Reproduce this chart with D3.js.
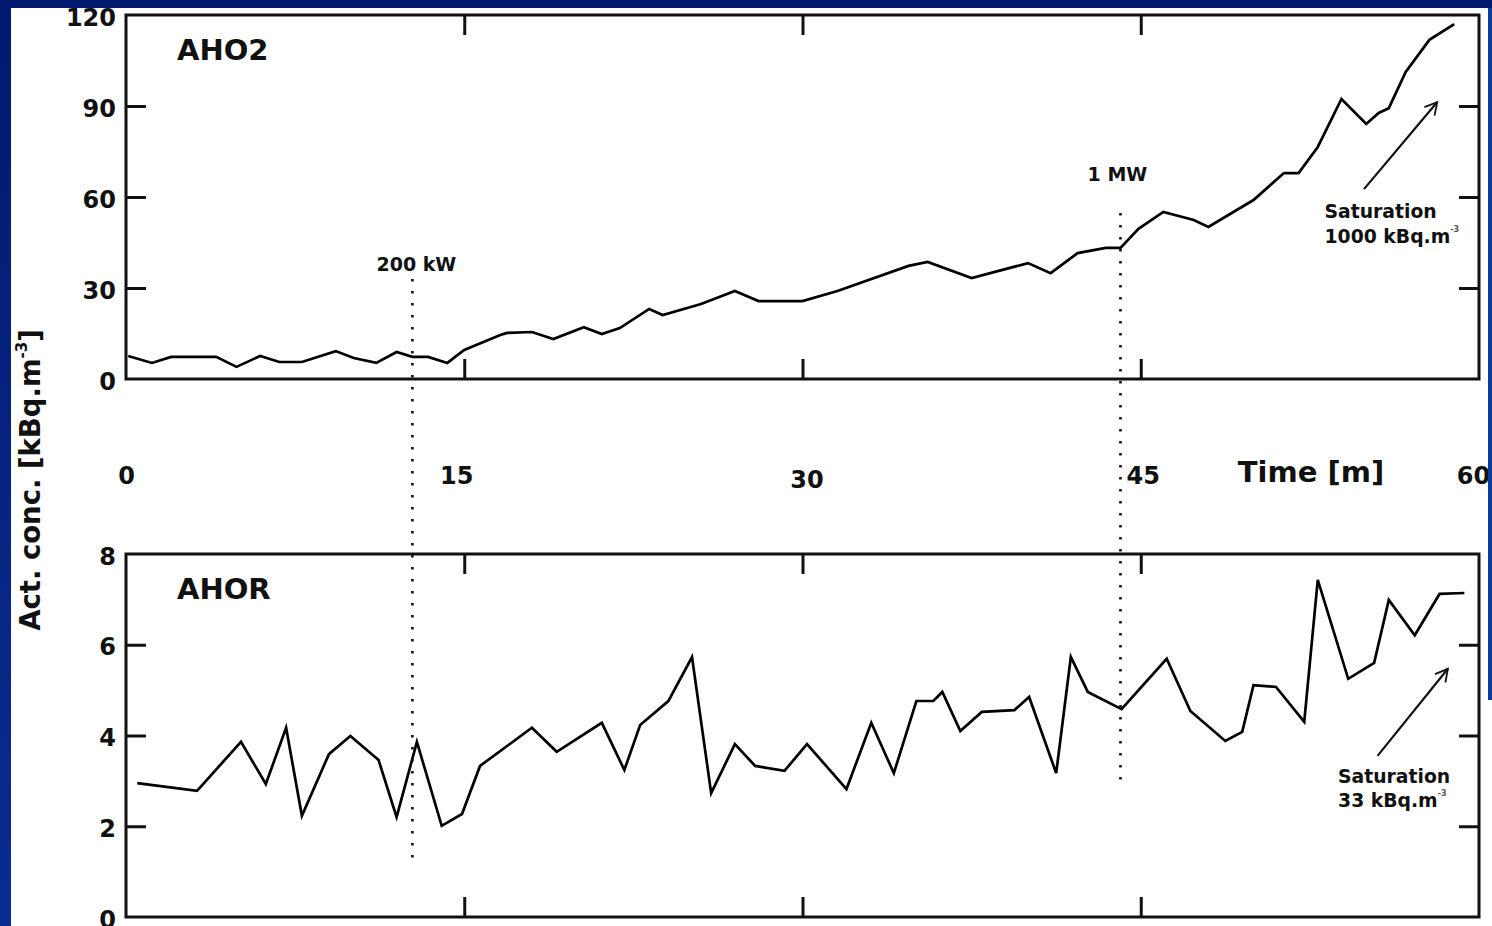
<!DOCTYPE html>
<html>
<head>
<meta charset="utf-8">
<script src="https://cdn.jsdelivr.net/npm/d3@7"></script>
<style>
  body { margin: 0; background: #001a70; }
  svg { display: block; font-family: "DejaVu Sans", Verdana, sans-serif; font-weight: bold; }
  .frame { fill: none; stroke: #111; stroke-width: 3; }
  .series { fill: none; stroke: #000; stroke-width: 2.7; stroke-linejoin: miter; }
  .marker-line { stroke: #111; stroke-width: 2.6; stroke-dasharray: 2.5 9.5; }
  .arrow { stroke: #111; stroke-width: 2.2; fill: none; }
</style>
</head>
<body>
<svg></svg>
<script>
document.addEventListener("DOMContentLoaded", function () {
  // AHO2 activity concentration [kBq.m-3] vs time [min]
  const aho2Time = [0.1, 1.15, 2.0, 4.0, 4.9, 5.95, 6.8, 7.8, 9.3, 10.1, 11.1, 12.0, 12.7, 13.4, 14.25, 15.0,
    16.6, 16.9, 18.0, 18.95, 20.3, 21.1, 21.9, 23.2, 23.8, 25.5, 27.0, 28.05, 30.0, 31.55, 34.7, 35.55,
    37.5, 40.0, 41.0, 42.2, 43.45, 44.1, 44.9, 46.0, 47.35, 48.0, 50.0, 51.35, 52.0, 52.85, 53.9, 55.0,
    55.55, 56.0, 56.75, 57.8, 58.9];
  const aho2Value = [7.6, 5.3, 7.3, 7.3, 4.0, 7.6, 5.6, 5.6, 9.2, 6.9, 5.3, 8.9, 7.3, 7.3, 5.3, 9.6,
    14.5, 15.2, 15.5, 13.2, 17.1, 14.8, 16.8, 23.1, 21.1, 24.7, 29.0, 25.7, 25.7, 29.0, 37.3, 38.6,
    33.3, 38.2, 34.9, 41.5, 43.2, 43.2, 49.5, 55.1, 52.4, 50.1, 59.0, 67.9, 67.9, 76.5, 92.3, 84.1,
    87.7, 89.3, 101.2, 111.8, 117.0];

  // AHOR activity concentration [kBq.m-3] vs time [min]
  const ahorTime = [0.5, 3.15, 5.1, 6.2, 7.1, 7.8, 9.0, 9.95, 11.2, 12.0, 12.9, 14.0, 14.9, 15.7,
    18.0, 19.1, 21.1, 22.1, 22.8, 24.05, 25.1, 25.95, 27.0, 27.9, 29.2, 30.2, 31.95, 33.05, 34.05,
    35.05, 35.8, 36.2, 37.0, 37.95, 39.4, 40.05, 41.25, 41.9, 42.65, 44.15, 46.15, 47.2, 48.75, 49.5,
    50.0, 51.0, 52.25, 52.85, 54.2, 55.35, 56.0, 57.15, 58.25, 59.35];
  const ahorValue = [2.95, 2.78, 3.86, 2.93, 4.17, 2.23, 3.59, 3.99, 3.46, 2.2, 3.86, 2.01, 2.27, 3.33,
    4.17, 3.64, 4.28, 3.24, 4.23, 4.76, 5.73, 2.73, 3.81, 3.33, 3.22, 3.81, 2.82, 4.28, 3.17,
    4.76, 4.76, 4.96, 4.1, 4.52, 4.56, 4.85, 3.17, 5.73, 4.96, 4.58, 5.69, 4.54, 3.88, 4.08,
    5.11, 5.07, 4.3, 7.43, 5.25, 5.6, 6.99, 6.21, 7.12, 7.14];

  const timeTicks = [0, 15, 30, 45, 60];
  const aho2Ticks = [0, 30, 60, 90, 120];
  const ahorTicks = [0, 2, 4, 6, 8];

  const w = 1492;
  const h = 926;

  const svg = d3.select("svg")
    .attr("width", w)
    .attr("height", h);

  // Slide background
  const defs = svg.append("defs");
  const grad = defs.append("linearGradient")
    .attr("id", "bkg")
    .attr("x1", 0).attr("y1", 0).attr("x2", 0).attr("y2", 1);
  grad.append("stop").attr("offset", "0%").attr("stop-color", "#001a70");
  grad.append("stop").attr("offset", "100%").attr("stop-color", "#0a2c90");

  svg.append("rect").attr("width", w).attr("height", h).attr("fill", "url(#bkg)");
  svg.append("rect").attr("x", 11).attr("y", 8).attr("width", 1477).attr("height", h - 8).attr("fill", "#fff");
  svg.append("rect").attr("x", 1488).attr("y", 700).attr("width", 4).attr("height", h - 700).attr("fill", "#fff");

  defs.append("marker")
    .attr("id", "head")
    .attr("viewBox", "0 0 12 12")
    .attr("refX", 10.5).attr("refY", 6)
    .attr("markerWidth", 7).attr("markerHeight", 7)
    .attr("orient", "auto")
    .append("path")
    .attr("d", "M1,0.8 L10.5,6 L1,11.2")
    .attr("fill", "none")
    .attr("stroke", "#111")
    .attr("stroke-width", 1.4);

  const x = d3.scaleLinear().domain([0, 60]).range([126, 1479]);
  const yTop = d3.scaleLinear().domain([0, 120]).range([379, 15]);
  const yBot = d3.scaleLinear().domain([0, 8]).range([917, 554]);

  const drawPanel = (yScale, ticks, times, values, name, nameY) => {
    const g = svg.append("g");
    const inner = ticks.slice(1, -1);

    g.append("rect")
      .attr("class", "frame")
      .attr("x", x.range()[0])
      .attr("y", yScale.range()[1])
      .attr("width", x.range()[1] - x.range()[0])
      .attr("height", yScale.range()[0] - yScale.range()[1]);

    // left axis: labels outside, ticks inward
    const left = g.append("g")
      .attr("transform", `translate(${x.range()[0]},0)`)
      .call(d3.axisLeft(yScale).tickValues(ticks).tickSizeInner(-20).tickSizeOuter(0).tickPadding(10));
    left.select(".domain").remove();
    left.selectAll(".tick line")
      .attr("stroke", "#111").attr("stroke-width", 3)
      .filter((d) => !inner.includes(d)).remove();
    left.selectAll(".tick text")
      .attr("font-size", 24).attr("fill", "#111").attr("font-family", "DejaVu Sans").attr("font-weight", "bold")
      .attr("dy", "0.42em");

    const right = g.append("g")
      .attr("transform", `translate(${x.range()[1]},0)`)
      .call(d3.axisRight(yScale).tickValues(inner).tickSizeInner(-20).tickSizeOuter(0).tickFormat(""));
    right.select(".domain").remove();
    right.selectAll(".tick line").attr("stroke", "#111").attr("stroke-width", 3);

    const bottom = g.append("g")
      .attr("transform", `translate(0,${yScale.range()[0]})`)
      .call(d3.axisBottom(x).tickValues([15, 30, 45]).tickSizeInner(-20).tickSizeOuter(0).tickFormat(""));
    bottom.select(".domain").remove();
    bottom.selectAll(".tick line").attr("stroke", "#111").attr("stroke-width", 3);

    const top = g.append("g")
      .attr("transform", `translate(0,${yScale.range()[1]})`)
      .call(d3.axisTop(x).tickValues([15, 30, 45]).tickSizeInner(-20).tickSizeOuter(0).tickFormat(""));
    top.select(".domain").remove();
    top.selectAll(".tick line").attr("stroke", "#111").attr("stroke-width", 3);

    const line = d3.line()
      .x((d) => x(d[0]))
      .y((d) => yScale(d[1]));

    g.append("path")
      .datum(d3.zip(times, values))
      .attr("class", "series")
      .attr("d", line);

    g.append("text")
      .attr("x", 177)
      .attr("y", nameY)
      .attr("font-size", 29)
      .attr("fill", "#111")
      .text(name);
  };

  drawPanel(yTop, aho2Ticks, aho2Time, aho2Value, "AHO2", 60);
  drawPanel(yBot, ahorTicks, ahorTime, ahorValue, "AHOR", 599);

  // time labels in the gap between panels
  const timeAxis = svg.append("g")
    .attr("transform", "translate(0,466)")
    .call(d3.axisBottom(x).tickValues(timeTicks).tickSize(0).tickPadding(0));
  timeAxis.select(".domain").remove();
  timeAxis.selectAll(".tick text")
    .attr("font-size", 24).attr("fill", "#111").attr("font-family", "DejaVu Sans").attr("font-weight", "bold")
    .attr("dy", "0.75em")
    .attr("dx", (d) => d === 15 ? -8 : (d === 45 ? 2 : (d === 0 ? 0 : (d === 30 ? 4 : -6))))
    .attr("y", (d) => d === 30 ? 4 : 0);

  svg.append("text")
    .attr("x", x(49.3))
    .attr("y", 482)
    .attr("font-size", 29)
    .attr("fill", "#111")
    .text("Time [m]");

  // power step markers
  const steps = [
    { t: 12.7, label: "200 kW", from: 33, to: 1.3, labelV: 35.5, dx: 4 },
    { t: 44.1, label: "1 MW", from: 54.7, to: 2.85, labelV: 65.3, dx: -3 }
  ];

  steps.forEach((s) => {
    svg.append("line")
      .attr("class", "marker-line")
      .attr("x1", x(s.t)).attr("x2", x(s.t))
      .attr("y1", yTop(s.from)).attr("y2", yBot(s.to));
    svg.append("text")
      .attr("x", x(s.t) + s.dx)
      .attr("y", yTop(s.labelV))
      .attr("text-anchor", "middle")
      .attr("font-size", 19)
      .attr("fill", "#111")
      .text(s.label);
  });

  // saturation notes
  const notes = [
    { y: yTop, from: [54.9, 62.6], to: [58.15, 91.3], at: [53.15, 53.1, 44.8], value: "1000 kBq.m" },
    { y: yBot, from: [55.5, 3.55], to: [58.62, 5.47], at: [53.75, 2.95, 2.42], value: "33 kBq.m" }
  ];

  notes.forEach((n) => {
    svg.append("line")
      .attr("class", "arrow")
      .attr("x1", x(n.from[0])).attr("y1", n.y(n.from[1]))
      .attr("x2", x(n.to[0])).attr("y2", n.y(n.to[1]))
      .attr("marker-end", "url(#head)");
    svg.append("text")
      .attr("x", x(n.at[0])).attr("y", n.y(n.at[1]))
      .attr("font-size", 18.8).attr("fill", "#111")
      .text("Saturation");
    const t2 = svg.append("text")
      .attr("x", x(n.at[0])).attr("y", n.y(n.at[2]))
      .attr("font-size", 18.8).attr("fill", "#111");
    t2.append("tspan").text(n.value);
    t2.append("tspan").attr("font-size", 8).attr("dy", -11).attr("fill", "#555").text("-3");
  });

  // shared y title
  const title = svg.append("text")
    .attr("transform", "translate(40,480) rotate(-90)")
    .attr("text-anchor", "middle")
    .attr("font-size", 27.5)
    .attr("fill", "#111");
  title.append("tspan").text("Act. conc. [kBq.m");
  title.append("tspan").attr("font-size", 15).attr("dy", -13).text("-3");
  title.append("tspan").attr("dy", 13).text("]");

  // right slide border sits over the "60" label
  svg.append("rect").attr("x", 1488).attr("y", 8).attr("width", 4).attr("height", 692).attr("fill", "#0a3a9c");
});
</script>
</body>
</html>
